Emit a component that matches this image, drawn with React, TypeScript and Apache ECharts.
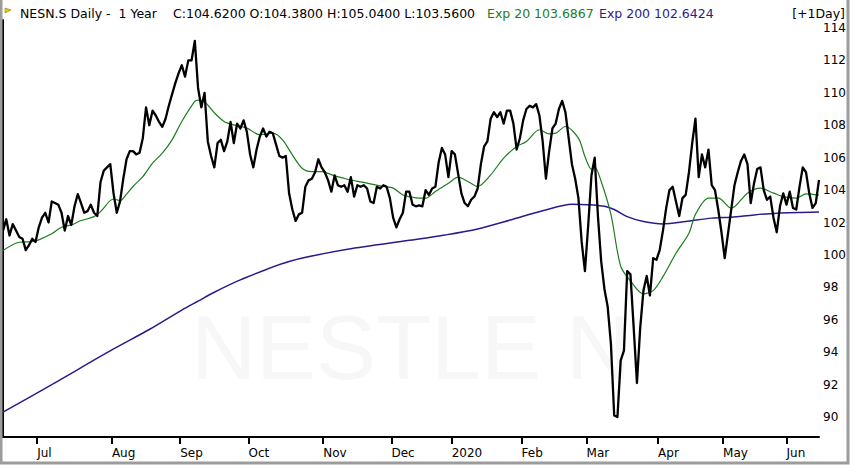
import React, { useEffect, useRef } from "react";
import * as echarts from "echarts";

// ---- axis data ----
const monthLabels = ["Jul", "Aug", "Sep", "Oct", "Nov", "Dec", "2020", "Feb", "Mar", "Apr", "May", "Jun"];
const monthTicks = [10.5, 33.5, 54.5, 75.5, 98.5, 119.5, 138, 159.5, 179.5, 201.5, 221.5, 241];
const yTicks = [90, 92, 94, 96, 98, 100, 102, 104, 106, 108, 110, 112, 114];
const lastDay = 251;

// ---- daily close (trading-day index 0..251) ----
const closes = [
  101.5, 102.2, 101.2, 101.9, 101.5, 101.1, 101.0, 100.3, 100.6, 101.0,
  100.8, 101.7, 102.3, 102.6, 102.0, 103.3, 103.2, 103.1, 102.6, 101.5,
  102.4, 101.85, 103.0, 103.75, 103.2, 102.6, 102.7, 103.1, 102.6, 102.4,
  104.5, 105.2, 105.4, 105.6, 103.8, 102.6, 103.3, 104.7, 105.9, 106.4,
  106.4, 106.2, 106.3, 107.2, 109.1, 108.0, 108.9, 108.6, 108.2, 107.9,
  108.4, 109.2, 109.9, 110.6, 111.2, 111.7, 111.0, 112.0, 112.0, 113.2,
  110.3, 109.1, 110.0, 107.0, 106.1, 105.4, 106.9, 107.1, 106.4, 107.0,
  108.2, 106.9, 108.1, 107.8, 108.3, 107.6, 106.2, 105.4, 106.5, 107.3,
  107.8, 107.3, 107.6, 107.5, 106.8, 106.1, 106.0, 106.1, 103.8, 102.8,
  102.1, 102.5, 102.6, 104.2, 104.6, 104.7, 105.1, 105.9, 105.4, 105.1,
  104.6, 103.9, 104.9, 104.3, 104.2, 104.3, 103.9, 104.8, 103.6, 104.3,
  104.2, 104.3, 104.1, 103.3, 103.2, 104.2, 104.1, 104.3, 104.2, 103.5,
  102.3, 101.7, 102.2, 102.6, 103.9, 103.9, 103.1, 103.0, 103.05, 103.0,
  104.0, 103.7, 104.1, 104.2, 105.7, 106.6, 106.2, 104.8, 106.4, 106.2,
  105.0, 103.8, 103.2, 103.0, 103.4, 103.6, 104.1, 105.6, 106.7, 107.0,
  108.4, 108.8, 108.5, 108.8, 108.1, 108.9, 108.9, 108.1, 106.5, 107.2,
  108.3, 109.0, 109.2, 109.1, 109.3, 108.6, 107.0, 104.7, 106.4, 107.8,
  108.1, 109.0, 109.5, 108.8, 107.2, 105.6, 104.7, 103.5, 100.8, 99.0,
  101.8, 104.9, 106.0, 102.4, 99.6, 97.9, 96.8, 94.5, 90.1, 90.0,
  93.5, 94.1, 99.0, 98.8, 95.5, 92.1, 95.5, 97.8, 98.7, 97.5,
  99.8, 99.7, 100.3, 101.5, 102.9, 104.0, 104.2, 103.3, 102.4, 103.5,
  103.7, 105.1, 106.9, 108.4, 104.8, 106.2, 105.4, 106.5, 104.3, 104.0,
  102.8, 101.4, 99.8, 101.3, 102.8, 104.3, 105.1, 105.8, 106.2, 105.6,
  103.2, 104.4, 105.3, 105.4, 104.0, 103.4, 103.6, 102.3, 101.4, 103.0,
  103.8, 103.1, 103.9, 102.9, 102.8, 104.2, 105.4, 105.1, 103.8, 102.9,
  103.2, 104.62,
];

// ---- Exp 20 (day index / value) ----
const ema20Days = [
  0, 5, 9, 11, 15, 18, 21, 24, 28, 30, 34, 36, 38, 40, 43, 46, 49, 52, 55, 59,
  60, 62, 65, 68, 71, 75, 79, 83, 86, 89, 92, 95, 98, 102, 106, 111, 117, 120, 123, 125,
  128, 130, 133, 137, 140, 143, 146, 150, 154, 158, 161, 165, 168, 170, 173, 177, 179, 181, 182, 184,
  187, 190, 193, 197, 200, 203, 207, 211, 213, 217, 220, 224, 229, 233, 237, 240, 244, 247, 251,
];
const ema20Vals = [
  100.27, 100.78, 100.82, 100.93, 101.3, 101.71, 101.85, 102.12, 102.36, 102.67, 103.45, 103.35, 103.75, 104.22, 104.83, 105.66, 106.28, 107.1, 108.23, 109.47,
  109.55, 109.45, 108.77, 108.23, 108.02, 107.82, 107.41, 107.51, 107.1, 106.17, 105.35, 105.14, 105.14, 104.88, 104.67, 104.47, 104.22, 104.12, 103.7, 103.6,
  103.5, 103.5, 103.91, 104.42, 104.8, 104.53, 104.22, 104.94, 105.97, 106.69, 107.0, 107.72, 107.47, 107.51, 107.92, 107.2, 106.07, 105.29, 105.41, 104.53,
  102.5, 99.3, 98.4, 97.6, 97.8, 98.66, 100.1, 101.34, 102.5, 103.5, 103.5, 102.88, 103.81, 104.12, 103.81, 103.6, 103.5, 103.77, 103.69,
];

// ---- Exp 200 (day index / value) ----
const ema200Days = [0, 15, 34, 45, 55, 60, 65, 73, 88, 106, 125, 136, 146, 156, 166, 175, 180, 185, 188, 192, 197, 203, 210, 218, 224, 231, 238, 251];
const ema200Vals = [90.3, 92.0, 94.2, 95.4, 96.6, 97.15, 97.7, 98.46, 99.6, 100.35, 100.9, 101.23, 101.6, 102.15, 102.72, 103.13, 103.1, 103.0, 102.8, 102.36, 102.06, 101.91, 102.06, 102.27, 102.33, 102.47, 102.57, 102.64];

// ---- header ----
const headTitle = "NESN.S Daily -  1 Year";
const headOHLC = "C:104.6200 O:104.3800 H:105.0400 L:103.5600";
const headExp20 = "Exp 20 103.6867";
const headExp200 = "Exp 200 102.6424";
const headRight = "[+1Day]";
const watermark = "NESTLE N";

const GREEN = "#1e7d1e";
const INDIGO = "#2c1a8c";
const FONT = '"DejaVu Sans", Verdana, sans-serif';

export default function App() {
  const ref = useRef<HTMLDivElement>(null);

  useEffect(() => {
    if (!ref.current) return;
    const chart = echarts.init(ref.current, undefined, { renderer: "svg" });

    const closeData = closes.map((v, i) => [i, v]);
    const ema20Data = ema20Days.map((d, i) => [d, ema20Vals[i]]);
    const ema200Data = ema200Days.map((d, i) => [d, ema200Vals[i]]);

    const headFont = `12.5px ${FONT}`;

    chart.setOption({
      animation: false,
      backgroundColor: "#ffffff",
      grid: { left: 3, right: 31, top: 20, bottom: 28, containLabel: false },
      xAxis: {
        type: "value",
        min: 0,
        max: lastDay,
        position: "bottom",
        axisLine: { show: true, onZero: false, lineStyle: { color: "#000", width: 2 } },
        axisTick: { show: true, customValues: monthTicks, length: 7, lineStyle: { color: "#000", width: 2 } },
        axisLabel: {
          show: true,
          customValues: monthTicks,
          formatter: (v: number) => {
            const k = monthTicks.indexOf(v);
            return k >= 0 ? monthLabels[k] : "";
          },
          align: "left",
          margin: 10,
          color: "#000",
          fontSize: 12,
          fontFamily: FONT,
        },
        splitLine: { show: false },
      },
      yAxis: {
        type: "value",
        position: "right",
        min: 88.77,
        max: 114.49,
        axisLine: { show: true, lineStyle: { color: "#000", width: 2 } },
        axisTick: { show: false },
        axisLabel: {
          show: true,
          customValues: yTicks,
          margin: 4,
          align: "left",
          color: "#000",
          fontSize: 12,
          fontFamily: FONT,
        },
        splitLine: { show: false },
      },
      graphic: [
        {
          type: "text",
          x: 191,
          y: 348,
          z: -10,
          silent: true,
          style: {
            text: watermark,
            fill: "#f7f7f7",
            font: `90px "Liberation Sans", Arial, sans-serif`,
            verticalAlign: "middle",
            align: "left",
          },
        },
        {
          type: "rect",
          z: 100,
          silent: true,
          shape: { x: 1, y: -6, width: 847, height: 469 },
          style: { fill: "none", stroke: "#9c9c9c", lineWidth: 3 },
        },
        {
          type: "polygon",
          z: 100,
          shape: { points: [[5, 8], [11, 10], [5, 13]] },
          style: { fill: "#e6cf00", stroke: "#8a7a00", lineWidth: 0.6 },
        },
        {
          type: "text",
          x: 20,
          y: 13,
          z: 100,
          style: { text: headTitle, fill: "#000", font: headFont, verticalAlign: "middle" },
        },
        {
          type: "text",
          x: 173,
          y: 13,
          z: 100,
          style: { text: headOHLC, fill: "#000", font: headFont, verticalAlign: "middle" },
        },
        {
          type: "text",
          x: 487,
          y: 13,
          z: 100,
          style: { text: headExp20, fill: GREEN, font: headFont, verticalAlign: "middle" },
        },
        {
          type: "text",
          x: 599,
          y: 13,
          z: 100,
          style: { text: headExp200, fill: INDIGO, font: headFont, verticalAlign: "middle" },
        },
        {
          type: "text",
          x: 845,
          y: 13,
          z: 100,
          style: { text: headRight, fill: "#000", font: headFont, verticalAlign: "middle", align: "right" },
        },
      ],
      series: [
        {
          name: "Exp 200",
          type: "line",
          data: ema200Data,
          showSymbol: false,
          smooth: 0.3,
          lineStyle: { color: INDIGO, width: 1.5 },
          z: 2,
        },
        {
          name: "Exp 20",
          type: "line",
          data: ema20Data,
          showSymbol: false,
          smooth: 0.3,
          lineStyle: { color: GREEN, width: 1.2 },
          z: 3,
        },
        {
          name: "NESN.S",
          type: "line",
          data: closeData,
          showSymbol: false,
          lineStyle: { color: "#000", width: 2.3, join: "round" },
          z: 4,
        },
      ],
    });

    return () => chart.dispose();
  }, []);

  return (
    <div
      ref={ref}
      style={{ position: "absolute", left: 0, top: 0, width: 850, height: 465, background: "#fff" }}
    />
  );
}
